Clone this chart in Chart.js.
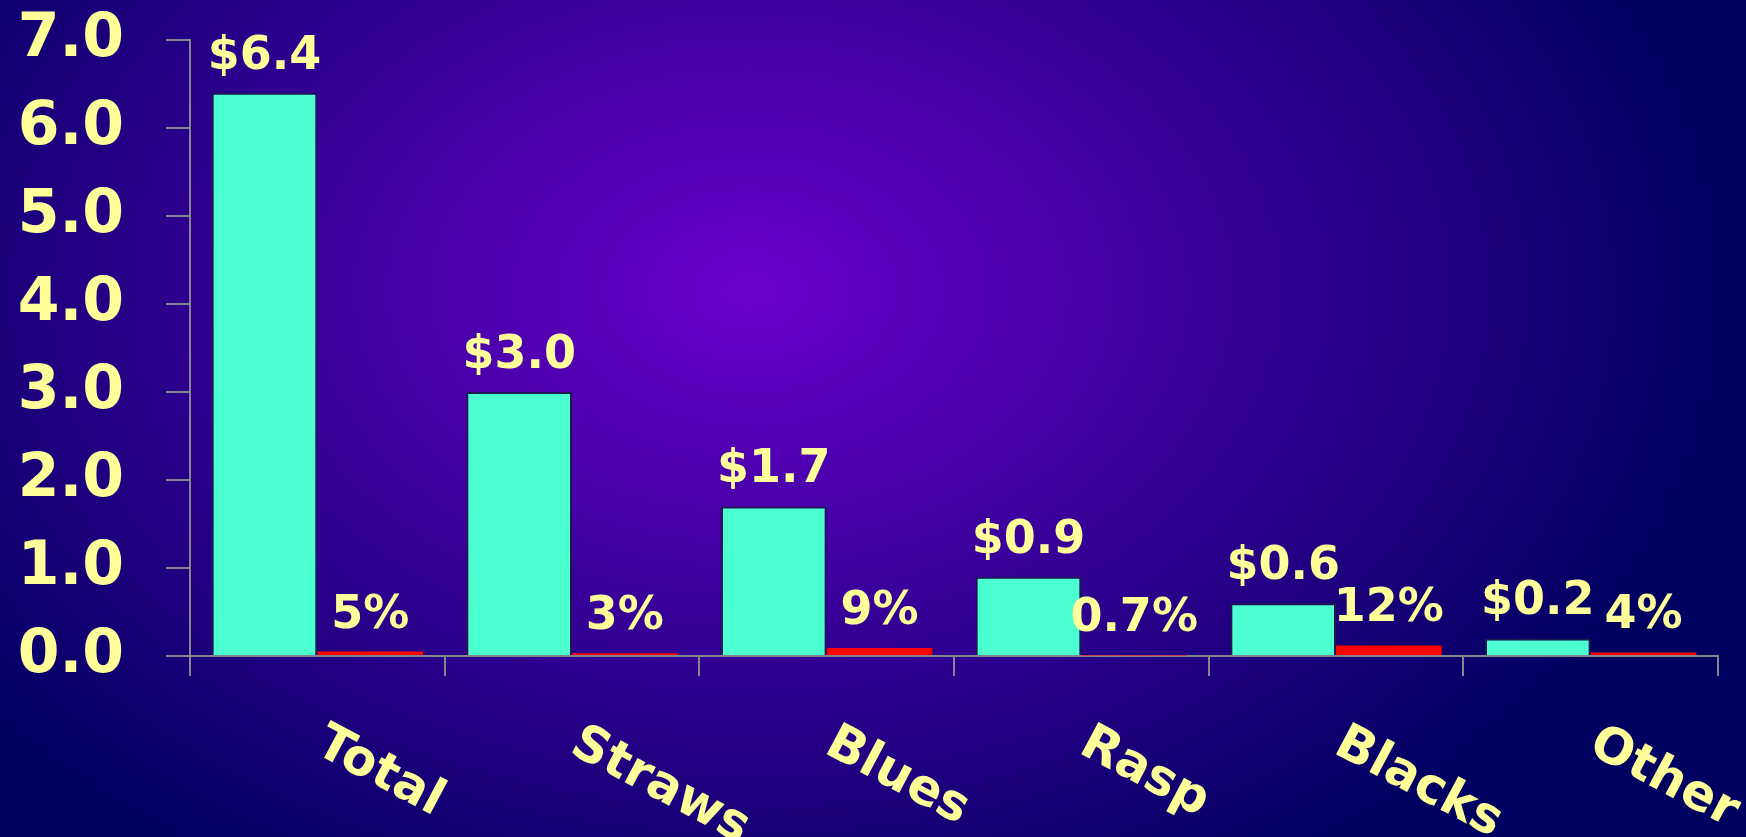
<!DOCTYPE html>
<html>
<head>
<meta charset="utf-8">
<script src="https://cdn.jsdelivr.net/npm/chart.js@4"></script>
<style>
  html, body { margin: 0; padding: 0; }
  #wrap {
    width: 1746px;
    height: 837px;
    position: relative;
    background: radial-gradient(ellipse 990px 690px at 750px 290px, #6a00cc 0%, #000060 100%);
  }
  #chart { display: block; }
</style>
</head>
<body>
<div id="wrap"><canvas id="chart" width="1746" height="837"></canvas></div>
<script>
// Berry crops: value in $ millions and share figure for each
const categories = ['Total', 'Straws', 'Blues', 'Rasp', 'Blacks', 'Other'];
const valueMillions = [6.4, 3.0, 1.7, 0.9, 0.6, 0.2];
const sharePercent = [5, 3, 9, 0.7, 12, 4];
const yTickValues = [0, 1, 2, 3, 4, 5, 6, 7];

const FONT = "'Comic Sans MS', 'DejaVu Sans', sans-serif";
const TEXT_COLOR = '#ffff99';
const AXIS_COLOR = '#858590';

// value labels above each bar
const barLabels = {
  id: 'barLabels',
  afterDatasetsDraw(chart) {
    const ctx = chart.ctx;
    ctx.save();
    ctx.fillStyle = TEXT_COLOR;
    ctx.font = 'bold 46px ' + FONT;
    ctx.textAlign = 'center';
    ctx.textBaseline = 'alphabetic';
    chart.data.datasets.forEach((ds, di) => {
      const meta = chart.getDatasetMeta(di);
      meta.data.forEach((bar, i) => {
        const text = di === 0 ? '$' + valueMillions[i].toFixed(1) : sharePercent[i] + '%';
        ctx.fillText(text, bar.x, bar.y - 24);
      });
    });
    ctx.restore();
  }
};

// slanted category names under the x axis
const slantedLabels = {
  id: 'slantedLabels',
  afterDraw(chart) {
    const ctx = chart.ctx;
    const xScale = chart.scales.x;
    ctx.save();
    ctx.fillStyle = TEXT_COLOR;
    ctx.font = 'bold 50px ' + FONT;
    ctx.textAlign = 'left';
    ctx.textBaseline = 'alphabetic';
    categories.forEach((name, i) => {
      const x = xScale.getPixelForValue(i);
      ctx.save();
      ctx.translate(x - 4, xScale.top + 96);
      ctx.rotate(28 * Math.PI / 180);
      ctx.fillText(name, 0, 0);
      ctx.restore();
    });
    ctx.restore();
  }
};

const ctx = document.getElementById('chart').getContext('2d');
new Chart(ctx, {
  type: 'bar',
  data: {
    labels: categories,
    datasets: [
      {
        label: 'Value',
        data: valueMillions,
        backgroundColor: '#4cffd0',
        borderColor: '#1e1850',
        borderWidth: 2,
        categoryPercentage: 0.83,
        barPercentage: 1.0
      },
      {
        label: 'Share',
        data: sharePercent.map(p => p / 100),
        backgroundColor: '#ff0000',
        borderWidth: 0,
        categoryPercentage: 0.83,
        barPercentage: 1.0
      }
    ]
  },
  options: {
    responsive: false,
    animation: false,
    layout: { padding: { top: 40, right: 28, left: 0, bottom: 0 } },
    plugins: {
      legend: { display: false },
      tooltip: { enabled: false }
    },
    scales: {
      x: {
        grid: {
          display: true,
          offset: true,
          drawOnChartArea: false,
          drawTicks: true,
          tickLength: 20,
          color: AXIS_COLOR,
          lineWidth: 2
        },
        border: { display: true, color: AXIS_COLOR, width: 2 },
        ticks: { display: false },
        afterFit(scale) { scale.height = 181; }
      },
      y: {
        min: 0,
        max: 7,
        afterBuildTicks(scale) {
          scale.ticks = yTickValues.map(v => ({ value: v }));
        },
        grid: {
          display: true,
          drawOnChartArea: false,
          drawTicks: true,
          tickLength: 24,
          color: AXIS_COLOR,
          lineWidth: 2
        },
        border: { display: true, color: AXIS_COLOR, width: 2 },
        ticks: {
          color: TEXT_COLOR,
          font: { family: FONT, size: 60, weight: 'bold' },
          padding: 42,
          callback: v => Number(v).toFixed(1)
        },
        afterFit(scale) {
          scale.width = 190;
          scale.paddingTop = 0;
          scale.paddingBottom = 0;
        }
      }
    }
  },
  plugins: [barLabels, slantedLabels]
});
</script>
</body>
</html>
